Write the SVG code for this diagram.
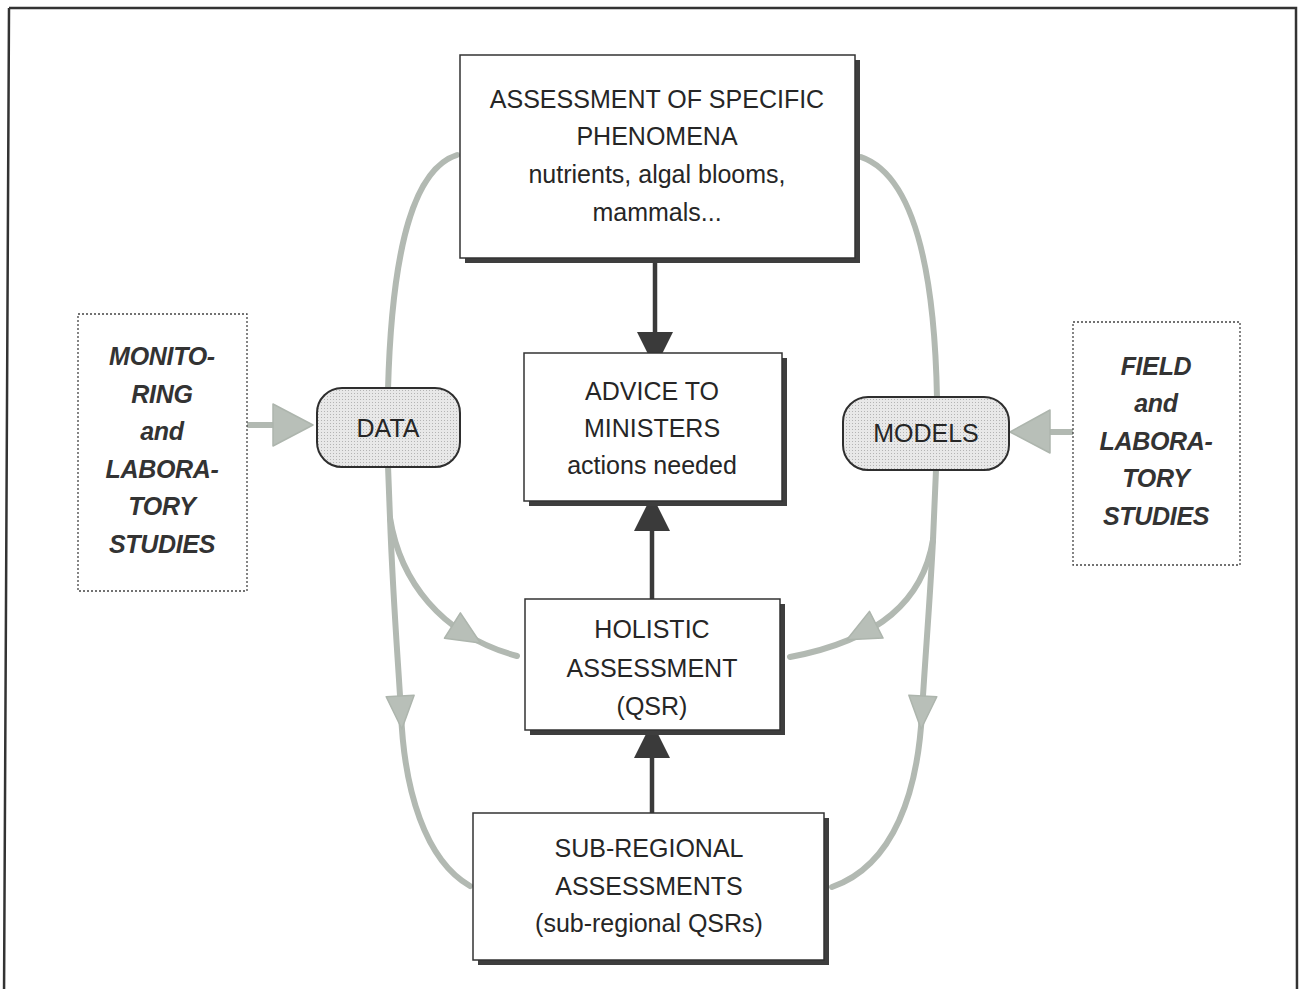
<svg xmlns="http://www.w3.org/2000/svg" width="1299" height="989" viewBox="0 0 1299 989">
<style>
.t{font-family:"Liberation Sans",Arial,sans-serif;font-size:25px;fill:#262626;text-anchor:middle}
.ti{font-family:"Liberation Sans",Arial,sans-serif;font-size:25px;font-weight:bold;font-style:italic;fill:#333;text-anchor:middle;letter-spacing:-0.3px}
.box{fill:#fff;stroke:#333;stroke-width:1.5}
.sh{fill:#3e3e3e}
.dot{fill:#fff;stroke:#444;stroke-width:1.3;stroke-dasharray:2 2}
.pill{fill:url(#dots);stroke:#2e2e2e;stroke-width:2}
.g{fill:none;stroke:#b2b9b2;stroke-width:6;stroke-linecap:round}
.gh{fill:#b8bfb8;stroke:#adb5ad;stroke-width:1.5;stroke-linejoin:round}
.dk{fill:none;stroke:#3a3a3a;stroke-width:4.5}
.dh{fill:#3a3a3a}
</style>
<defs>
<pattern id="dots" width="3" height="3" patternUnits="userSpaceOnUse">
<rect width="3" height="3" fill="#e8e8e8"/>
<rect width="1" height="1" fill="#b4b4b4"/>
</pattern>
</defs>
<path d="M9,8 L1296,8 L1297,1000 M9,8 L4,1000" fill="none" stroke="#333" stroke-width="2.5"/>
<g id="connectors">
<path class="g" d="M457,155 C416,168 392,240 388,390"/>
<path class="g" d="M861,157 C904,172 934,240 937,398"/>
<path class="g" d="M388,466 L390,518"/>
<path class="g" d="M390,518 C400,580 440,635 517,656"/>
<path class="g" d="M390,518 C393,600 398,660 401,712 C404,790 425,860 470,886"/>
<path class="g" d="M936,470 L933,540"/>
<path class="g" d="M933,540 C923,600 880,640 790,657"/>
<path class="g" d="M933,540 C930,600 925,660 922,712 C918,790 895,865 832,887"/>
<polygon class="gh" points="-16,-15 17,0 -16,15" transform="translate(466,634) rotate(32)"/>
<polygon class="gh" points="-16,-14 17,0 -16,14" transform="translate(401,712) rotate(87)"/>
<polygon class="gh" points="-16,-15 17,0 -16,15" transform="translate(862,632) rotate(153)"/>
<polygon class="gh" points="-16,-14 17,0 -16,14" transform="translate(922,712) rotate(93)"/>
<path class="g" d="M249,425 L276,425"/>
<polygon class="gh" points="273,404 313,425 273,446"/>
<path class="g" d="M1073,432 L1048,432"/>
<polygon class="gh" points="1050,410 1010,432 1050,453"/>
<path class="dk" d="M655,261 L655,334"/>
<polygon class="dh" points="637,332 673,332 655,368"/>
<path class="dk" d="M652,529 L652,599"/>
<polygon class="dh" points="634,531 670,531 652,495"/>
<path class="dk" d="M652,756 L652,813"/>
<polygon class="dh" points="634,758 670,758 652,722"/>
</g>
<g id="specific">
<rect class="sh" x="465" y="60" width="395" height="203"/>
<rect class="box" x="460" y="55" width="395" height="203"/>
<text class="t" x="657" y="108">ASSESSMENT OF SPECIFIC</text>
<text class="t" x="657" y="145">PHENOMENA</text>
<text class="t" x="657" y="183">nutrients, algal blooms,</text>
<text class="t" x="657" y="221">mammals...</text>
</g>
<g id="advice">
<rect class="sh" x="529" y="358" width="258" height="148"/>
<rect class="box" x="524" y="353" width="258" height="148"/>
<text class="t" x="652" y="400">ADVICE TO</text>
<text class="t" x="652" y="437">MINISTERS</text>
<text class="t" x="652" y="474">actions needed</text>
</g>
<g id="holistic">
<rect class="sh" x="530" y="604" width="255" height="131"/>
<rect class="box" x="525" y="599" width="255" height="131"/>
<text class="t" x="652" y="638">HOLISTIC</text>
<text class="t" x="652" y="677">ASSESSMENT</text>
<text class="t" x="652" y="715">(QSR)</text>
</g>
<g id="subregional">
<rect class="sh" x="478" y="818" width="351" height="147"/>
<rect class="box" x="473" y="813" width="351" height="147"/>
<text class="t" x="649" y="857">SUB-REGIONAL</text>
<text class="t" x="649" y="895">ASSESSMENTS</text>
<text class="t" x="649" y="932">(sub-regional QSRs)</text>
</g>
<g id="data">
<rect class="pill" x="317" y="388" width="143" height="79" rx="25"/>
<text class="t" x="388" y="437">DATA</text>
</g>
<g id="models">
<rect class="pill" x="843" y="397" width="166" height="73" rx="25"/>
<text class="t" x="926" y="442">MODELS</text>
</g>
<g id="monitoring">
<rect class="dot" x="78" y="314" width="169" height="277"/>
<text class="ti" x="162" y="365">MONITO-</text>
<text class="ti" x="162" y="403">RING</text>
<text class="ti" x="162" y="440">and</text>
<text class="ti" x="162" y="478">LABORA-</text>
<text class="ti" x="162" y="515">TORY</text>
<text class="ti" x="162" y="553">STUDIES</text>
</g>
<g id="field">
<rect class="dot" x="1073" y="322" width="167" height="243"/>
<text class="ti" x="1156" y="375">FIELD</text>
<text class="ti" x="1156" y="412">and</text>
<text class="ti" x="1156" y="450">LABORA-</text>
<text class="ti" x="1156" y="487">TORY</text>
<text class="ti" x="1156" y="525">STUDIES</text>
</g>
</svg>
